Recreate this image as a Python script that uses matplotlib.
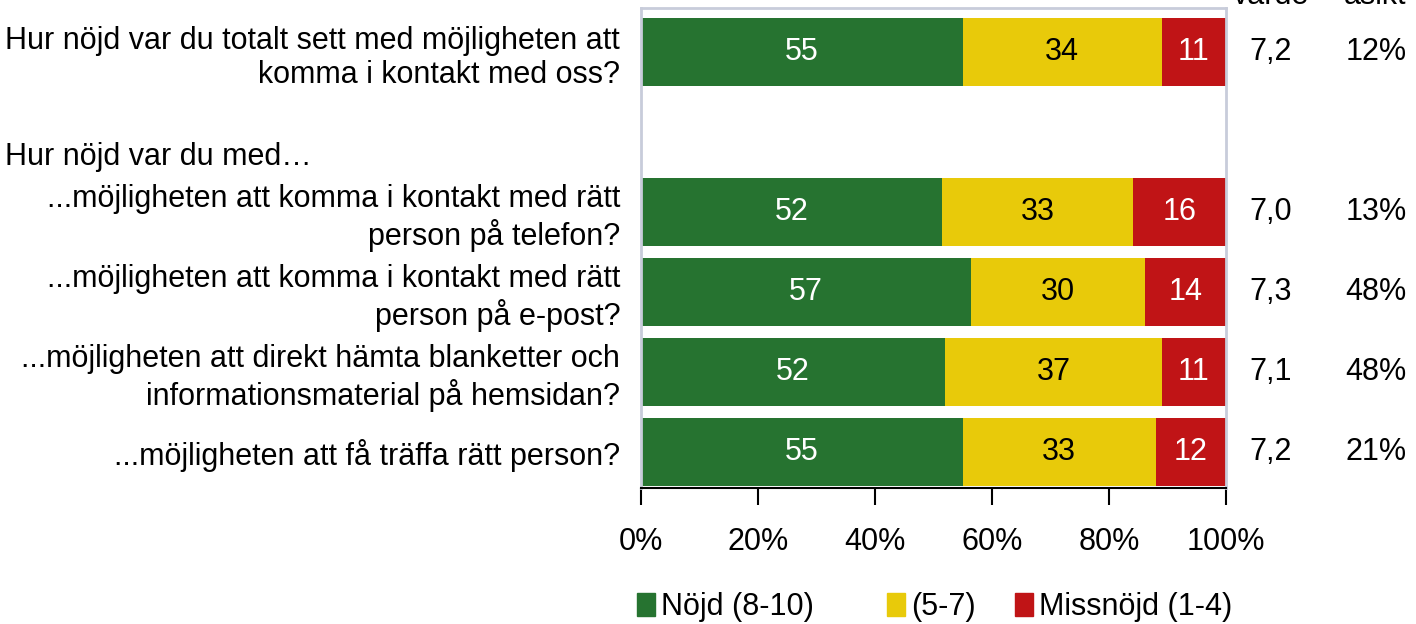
import matplotlib.pyplot as plt
from matplotlib.patches import Patch
import numpy as np

plt.rcParams['font.family'] = ['Liberation Sans', 'DejaVu Sans']

labels = ["Hur nöjd var du totalt sett med möjligheten att\nkomma i kontakt med oss?",
          "...möjligheten att komma i kontakt med rätt\nperson på telefon?",
          "...möjligheten att komma i kontakt med rätt\nperson på e-post?",
          "...möjligheten att direkt hämta blanketter och\ninformationsmaterial på hemsidan?",
          "...möjligheten att få träffa rätt person?"]
nojd = [55, 52, 57, 52, 55]
mellan = [34, 33, 30, 37, 33]
missnojd = [11, 16, 14, 11, 12]
medelvarde = ["7,2", "7,0", "7,3", "7,1", "7,2"]
ingen_asikt = ["12%", "13%", "48%", "48%", "21%"]
series_names = ["Nöjd (8-10)", "(5-7)", "Missnöjd (1-4)"]
colors = ["#267330", "#E8CA0A", "#C01416"]
text_colors = ["white", "black", "white"]

FS = 22

# row 1 is left empty (group heading goes there)
pos = np.array([0, 2, 3, 4, 5])

fig = plt.figure(figsize=(14.16, 6.24), dpi=100)
ax = fig.add_axes([641 / 1416, 1 - 488 / 624, 585 / 1416, 480 / 624])

data = np.array([nojd, mellan, missnojd], dtype=float)
shares = data / data.sum(axis=0)
left = np.zeros(len(pos))
for i in range(3):
    bars = ax.barh(pos, shares[i], left=left, height=0.85, color=colors[i])
    for b, v in zip(bars, data[i]):
        ax.text(b.get_x() + b.get_width() / 2, b.get_y() + b.get_height() / 2,
                f"{v:.0f}", ha='center', va='center', fontsize=FS, color=text_colors[i])
    left += shares[i]

ax.set_ylim(5.45, -0.55)
ax.set_xlim(0, 1)
ax.set_yticks(pos)
ax.set_yticklabels(labels, fontsize=FS, ha='right')
ax.tick_params(axis='y', length=0, pad=15)
ax.set_xticks(np.linspace(0, 1, 6))
ax.set_xticklabels([f"{int(t)}%" for t in np.linspace(0, 100, 6)], fontsize=FS)
ax.tick_params(axis='x', length=12, width=1.5, pad=16, direction='out')

for s in ['top', 'left', 'right']:
    ax.spines[s].set_color('#C8CCDA')
    ax.spines[s].set_linewidth(2)
ax.spines['bottom'].set_color('black')
ax.spines['bottom'].set_linewidth(1.5)

fig.text(5 / 1416, 1 - 157 / 624, "Hur nöjd var du med…", fontsize=FS, ha='left', va='center')

# right-hand columns
for p, m, n in zip(pos, medelvarde, ingen_asikt):
    y = 1 - (52 + 80 * p) / 624
    fig.text(1271 / 1416, y, m, fontsize=FS, ha='center', va='center')
    fig.text(1407 / 1416, y, n, fontsize=FS, ha='right', va='center')
fig.text(1271 / 1416, 1 - 4 / 624, "Medel-\nvärde", fontsize=FS, ha='center', va='baseline')
fig.text(1375 / 1416, 1 - 4 / 624, "Ingen\nåsikt", fontsize=FS, ha='center', va='baseline')

# legend entries placed like the original (uneven spacing)
legend_x = [637, 887, 1015]
for name, c, lx in zip(series_names, colors, legend_x):
    fig.legend(handles=[Patch(color=c)], labels=[name], loc='center left',
               bbox_to_anchor=(lx / 1416, 1 - 607 / 624), frameon=False,
               fontsize=FS, handlelength=0.6, handleheight=0.75,
               handletextpad=0.2, borderpad=0, borderaxespad=0)

fig.savefig("out.png", dpi=100)
